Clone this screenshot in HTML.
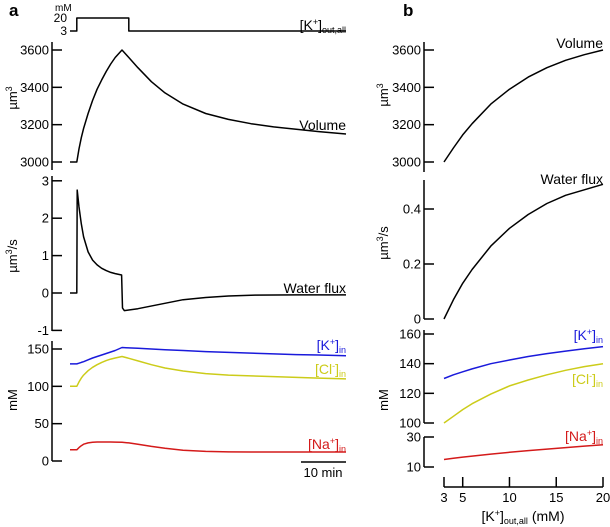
<!DOCTYPE html>
<html><head><meta charset="utf-8"><style>
body{margin:0;background:#fff}
svg{font-family:"Liberation Sans",Arial,sans-serif;display:block}
</style></head><body>
<svg id="c" width="610" height="527" viewBox="0 0 610 527"></svg>
<script>
// ---- Panel a data (time in min) ----
const tA=[0,1.5,2,2.5,3,4,5,6,7,8,9,10,11.5,13,15,18,21,25,30,35,40,45,50,55,61];
const kOut=[3,20,20,20,20,20,20,20,20,20,20,20,20,3,3,3,3,3,3,3,3,3,3,3,3];
const volA=[3000,3000,3070,3130,3180,3260,3330,3390,3440,3485,3525,3560,3600,3560,3505,3430,3370,3310,3260,3228,3205,3188,3175,3163,3150];
const kInA=[130,130,131,132,133,135.5,138,140,142,144,146,148,152,151.5,151,150,149,148,146.5,145.5,144.5,143.5,142.5,142,141];
const clA=[100,100,106,111,115,121,125.5,129,132,134.5,136.5,138,140,137.5,134,129,124.5,120.5,117,115,114,113,112,111,110];
const naA=[15,15,18,20.5,22.5,24.2,25,25.4,25.5,25.5,25.5,25.3,25,24.2,22.5,19.5,17,14.5,12.8,12.2,12,12,12,12,12];
const tF=[0,1.5,1.6,2,2.5,3,4,5,6,7,8,9,10,11.4,11.6,12,15,20,25,30,35,40,50,61];
const fluxA=[0,0,2.75,2.3,1.85,1.5,1.1,0.88,0.75,0.66,0.6,0.55,0.52,0.48,-0.4,-0.47,-0.42,-0.3,-0.18,-0.12,-0.08,-0.06,-0.05,-0.05];
// ---- Panel b data (K+out mM) ----
const kB=[3,4,5,6,8,10,12,14,16,18,20];
const volB=[3000,3075,3145,3205,3310,3390,3455,3505,3545,3575,3600];
const fluxB=[0,0.07,0.13,0.18,0.265,0.33,0.38,0.42,0.45,0.47,0.49];
const kInB=[130,132.5,134.5,136.5,140,142.5,144.8,146.8,148.5,150,151.5];
const clB=[100,104.5,109,113,119.5,125,129,132.5,135.5,138,140];
const naB=[15,15.8,16.6,17.3,18.6,19.8,20.9,21.9,22.9,23.9,24.8];

const svg=document.getElementById('c');
const NS='http://www.w3.org/2000/svg';
function mk(tag,attrs,name,txt){const e=document.createElementNS(NS,tag);for(const k in attrs)e.setAttribute(k,attrs[k]);


if(txt!==undefined)e.innerHTML=txt;svg.appendChild(e);return e;}
function lin(d0,d1,r0,r1){return v=>r0+(v-d0)*(r1-r0)/(d1-d0);}
function poly(xs,ys,sx,sy,color,name,w){const p=xs.map((x,i)=>sx(x).toFixed(1)+','+sy(ys[i]).toFixed(1)).join(' ');
mk('polyline',{points:p,fill:'none',stroke:color,'stroke-width':w||1.5,'stroke-linejoin':'round'},name);}
function yaxis(x,y0,y1,ticks,sy,name,labs){mk('line',{x1:x,y1:y0,x2:x,y2:y1,stroke:'#000','stroke-width':1.5},name);
ticks.forEach((t,i)=>{const y=sy(t);mk('line',{x1:x,y1:y,x2:x+10,y2:y,stroke:'#000','stroke-width':1.5},name+'-tick');
mk('text',{x:x-3,y:y+4.5,'font-size':13,'text-anchor':'end'},name+'-label',labs?labs[i]:t);});}
function ytitle(x,y,html,name){mk('text',{x:x,y:y,'font-size':13,'text-anchor':'middle',transform:`rotate(-90 ${x} ${y})`},name,html);}
function lab(x,y,html,color,name){mk('text',{x:x,y:y,'font-size':14,'text-anchor':'end',fill:color},name,html);}

mk('text',{x:9,y:16,'font-size':17,'font-weight':'bold'},'panel-a-letter','a');
mk('text',{x:403,y:16,'font-size':17,'font-weight':'bold'},'panel-b-letter','b');

// ---- Panel a ----
const tx=lin(0,61,70,346);
const sk=lin(3,20,31,18);
poly(tA.flatMap((t,i)=>i==0?[t]:[t,t]),kOut.flatMap((v,i)=>i==0?[v]:[kOut[i-1],v]),tx,sk,'#000','k-out-trace');
mk('text',{x:55,y:11,'font-size':10},'k-out-unit','mM');
mk('text',{x:67,y:22,'font-size':12,'text-anchor':'end'},'k-out-20','20');
mk('text',{x:67,y:35,'font-size':12,'text-anchor':'end'},'k-out-3','3');
lab(346,30,'[K<tspan font-size="9" dy="-5">+</tspan><tspan dy="5">]</tspan><tspan font-size="9" dy="3">out,all</tspan>','#000','k-out-label');

const sva=lin(3000,3600,162,50);
yaxis(52,42,170,[3000,3200,3400,3600],sva,'volume-a-axis');
ytitle(17,98,'µm<tspan font-size="9" dy="-5">3</tspan>','volume-a-title');
poly(tA,volA,tx,sva,'#000','volume-a-line');
lab(346,130,'Volume','#000','volume-a-label');

const sfa=lin(0,1,293,255.6);
yaxis(52,176,331,[-1,0,1,2,3],sfa,'flux-a-axis');
ytitle(17,256,'µm<tspan font-size="9" dy="-5">3</tspan><tspan dy="5">/s</tspan>','flux-a-title');
poly(tF,fluxA,tx,sfa,'#000','flux-a-line');
lab(346,293,'Water flux','#000','flux-a-label');

const sia=lin(0,150,461,349);
yaxis(52,341,461,[0,50,100,150],sia,'ion-a-axis');
ytitle(17,400,'mM','ion-a-title');
poly(tA,kInA,tx,sia,'#1a1adb','k-in-a-line');
poly(tA,clA,tx,sia,'#cccc1a','cl-in-a-line');
poly(tA,naA,tx,sia,'#d41a1a','na-in-a-line');
lab(346,350,'[K<tspan font-size="9" dy="-5">+</tspan><tspan dy="5">]</tspan><tspan font-size="9" dy="3">in</tspan>','#1a1adb','k-in-a-label');
lab(346,374,'[Cl<tspan font-size="9" dy="-5">-</tspan><tspan dy="5">]</tspan><tspan font-size="9" dy="3">in</tspan>','#cccc1a','cl-in-a-label');
lab(346,449,'[Na<tspan font-size="9" dy="-5">+</tspan><tspan dy="5">]</tspan><tspan font-size="9" dy="3">in</tspan>','#d41a1a','na-in-a-label');
mk('line',{x1:301,y1:462,x2:346,y2:462,stroke:'#000','stroke-width':1.5},'scale-bar');
mk('text',{x:323,y:477,'font-size':13,'text-anchor':'middle'},'scale-bar-label','10 min');

// ---- Panel b ----
const kx=lin(3,20,444,603);
const svb=lin(3000,3600,162,50);
yaxis(424,42,172,[3000,3200,3400,3600],svb,'volume-b-axis');
ytitle(388,95,'µm<tspan font-size="9" dy="-5">3</tspan>','volume-b-title');
poly(kB,volB,kx,svb,'#000','volume-b-line');
lab(603,48,'Volume','#000','volume-b-label');

const sfb=lin(0,0.2,319,264);
yaxis(424,180,319,[0,0.2,0.4],sfb,'flux-b-axis',['0','0.2','0.4']);
ytitle(388,243,'µm<tspan font-size="9" dy="-5">3</tspan><tspan dy="5">/s</tspan>','flux-b-title');
poly(kB,fluxB,kx,sfb,'#000','flux-b-line');
lab(603,184,'Water flux','#000','flux-b-label');

const sib=lin(100,160,423,334);
yaxis(424,330,423,[100,120,140,160],sib,'ion-b-axis');
const snb=lin(10,30,467,437);
yaxis(424,437,467,[10,30],snb,'na-b-axis');
ytitle(388,400,'mM','ion-b-title');
poly(kB,kInB,kx,sib,'#1a1adb','k-in-b-line');
poly(kB,clB,kx,sib,'#cccc1a','cl-in-b-line');
poly(kB,naB,kx,snb,'#d41a1a','na-in-b-line');
lab(603,340,'[K<tspan font-size="9" dy="-5">+</tspan><tspan dy="5">]</tspan><tspan font-size="9" dy="3">in</tspan>','#1a1adb','k-in-b-label');
lab(603,384,'[Cl<tspan font-size="9" dy="-5">-</tspan><tspan dy="5">]</tspan><tspan font-size="9" dy="3">in</tspan>','#cccc1a','cl-in-b-label');
lab(603,441,'[Na<tspan font-size="9" dy="-5">+</tspan><tspan dy="5">]</tspan><tspan font-size="9" dy="3">in</tspan>','#d41a1a','na-in-b-label');

mk('line',{x1:444,y1:487,x2:603,y2:487,stroke:'#000','stroke-width':1.5},'x-axis-b');
[3,5,10,15,20].forEach(t=>{const x=kx(t);
mk('line',{x1:x,y1:477,x2:x,y2:487,stroke:'#000','stroke-width':1.5},'x-tick');
mk('text',{x:x,y:502,'font-size':13,'text-anchor':'middle'},'x-tick-label',t);});
mk('text',{x:523,y:521,'font-size':14,'text-anchor':'middle'},'x-axis-b-title','[K<tspan font-size="9" dy="-5">+</tspan><tspan dy="5">]</tspan><tspan font-size="9" dy="3">out,all</tspan><tspan dy="-3"> (mM)</tspan>');
</script>
</body></html>
